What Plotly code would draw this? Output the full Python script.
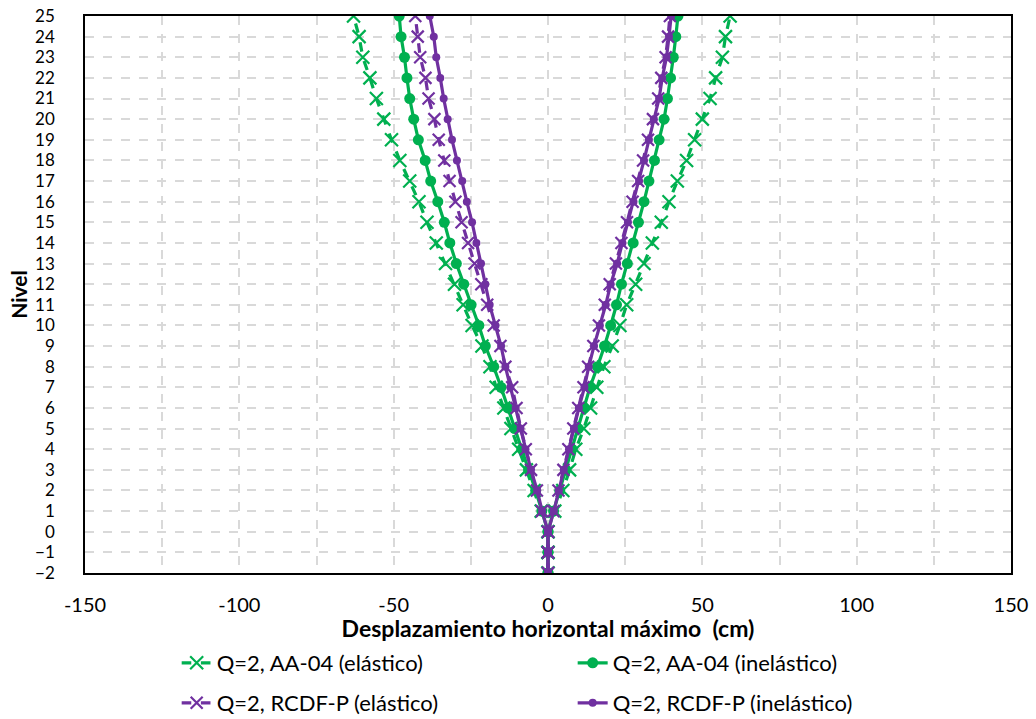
import plotly.graph_objects as go

levels = list(range(-2, 26))

# Q=2, AA-04 (elástico)
aa04_el_left = [0, 0, 0, -2.2, -4.5, -7.0, -9.5, -12.0, -14.3, -16.8, -18.8, -21.4, -24.6, -27.5, -30.3,
                -33.2, -36.2, -39.2, -41.8, -44.8, -48.0, -50.7, -53.2, -55.6, -57.7, -60.0, -61.2, -63.0]
aa04_el_right = [0, 0, 0, 2.2, 4.8, 7.0, 9.0, 11.6, 13.8, 15.8, 18.1, 20.8, 23.3, 25.5, 28.4,
                 31.1, 33.8, 36.7, 39.2, 41.9, 44.9, 47.5, 50.0, 52.5, 54.3, 56.5, 57.5, 59.0]
# Q=2, AA-04 (inelástico)
aa04_in_left = [0, 0, 0, -2.0, -4.0, -6.3, -8.5, -10.8, -13.0, -15.2, -17.6, -20.3, -22.4, -24.9, -27.3,
                -29.7, -31.8, -33.6, -35.7, -38.0, -39.8, -42.0, -43.5, -44.8, -45.7, -46.5, -47.6, -48.2]
aa04_in_right = [0, 0, 0, 1.8, 3.8, 5.8, 7.8, 9.8, 11.7, 13.6, 16.0, 18.3, 20.3, 22.2, 23.8,
                 25.7, 27.6, 29.3, 31.1, 32.7, 34.5, 36.0, 37.6, 38.7, 39.7, 40.6, 41.4, 42.1]
# Q=2, RCDF-P (elástico)
rcdf_el_left = [0, 0, 0, -2.0, -3.6, -5.5, -7.2, -8.8, -10.2, -11.6, -13.8, -15.4, -17.6, -19.7, -21.6,
                -23.8, -25.9, -28.0, -30.0, -31.9, -33.6, -35.4, -36.8, -38.7, -39.7, -41.4, -42.2, -43.0]
rcdf_el_right = [0, 0, 0, 1.8, 3.4, 5.0, 6.6, 8.2, 9.8, 11.5, 13.0, 14.7, 16.5, 18.4, 20.0,
                 22.0, 23.8, 25.6, 27.4, 29.2, 30.8, 32.4, 34.0, 35.7, 36.7, 38.1, 38.9, 39.5]
# Q=2, RCDF-P (inelástico)
rcdf_in_left = [0, 0, 0, -1.9, -3.5, -5.5, -7.3, -8.9, -10.5, -12.2, -13.8, -15.2, -17.0, -18.9, -20.3,
                -21.7, -23.2, -24.6, -26.3, -27.8, -29.5, -31.1, -32.5, -33.8, -34.9, -36.2, -37.0, -38.3]
rcdf_in_right = [0, 0, 0, 1.9, 3.5, 5.1, 6.8, 8.4, 10.0, 11.8, 13.2, 14.9, 16.8, 18.7, 20.3,
                 22.4, 24.1, 25.9, 27.7, 29.5, 31.1, 32.7, 34.3, 36.0, 37.0, 38.4, 39.2, 39.9]

x_ticks = [-150, -100, -50, 0, 50, 100, 150]

GREEN = "#00B050"
PURPLE = "#7030A0"
FONT = "Lato"

series = [
    ("Q=2, AA-04 (elástico)", aa04_el_left, aa04_el_right, GREEN, "dash", "x-thin", 13, "legend"),
    ("Q=2, AA-04 (inelástico)", aa04_in_left, aa04_in_right, GREEN, "solid", "circle", 11, "legend"),
    ("Q=2, RCDF-P (elástico)", rcdf_el_left, rcdf_el_right, PURPLE, "dash", "x-thin", 12, "legend2"),
    ("Q=2, RCDF-P (inelástico)", rcdf_in_left, rcdf_in_right, PURPLE, "solid", "circle", 8, "legend2"),
]

fig = go.Figure()
for name, left, right, color, dash, sym, size, leg in series:
    for i, xs in enumerate([left, right]):
        mk = dict(symbol=sym, size=size, color=color)
        if sym == "x-thin":
            mk["line"] = dict(color=color, width=2.2)
        fig.add_trace(go.Scatter(
            x=xs, y=levels, mode="lines+markers", name=name,
            legendgroup=name, showlegend=(i == 0), legend=leg,
            line=dict(color=color, width=3.2, dash=dash),
            marker=mk,
        ))

grid = dict(showgrid=True, gridcolor="#D9D9D9", gridwidth=1.5, griddash="dash")

fig.update_layout(
    width=1036, height=719,
    margin=dict(l=85, r=25, t=16, b=146),
    paper_bgcolor="white", plot_bgcolor="white",
    font=dict(family=FONT, size=19, color="black"),
    xaxis=dict(range=[-150, 150], tickvals=x_ticks, ticktext=[str(v) for v in x_ticks],
               automargin=False,
               zeroline=False, showline=True, linecolor="black", linewidth=1.5, mirror=True,
               ticks="", tickfont=dict(size=20, family=FONT), ticklabelstandoff=13,
               minor=dict(dtick=25, tick0=0, showgrid=True, gridcolor="#D9D9D9", gridwidth=1.5, griddash="dash"),
               title=dict(text="<b>Desplazamiento horizontal máximo  (cm)</b>", font=dict(size=23, family=FONT), standoff=19),
               **grid),
    yaxis=dict(range=[-2, 25], dtick=1, tick0=0, zeroline=False, showline=True, linecolor="black",
               automargin=False,
               linewidth=1.5, mirror=True, ticks="", tickfont=dict(size=17, family=FONT),
               ticklabelstandoff=25,
               title=dict(text="<b>Nivel</b>", font=dict(size=21, family=FONT), standoff=2),
               **grid),
    legend=dict(orientation="h", x=0.099, xanchor="left", xref="paper",
                y=1 - 663 / 719, yanchor="middle", yref="container",
                entrywidth=351, entrywidthmode="pixels", font=dict(size=22, family=FONT),
                bgcolor="rgba(0,0,0,0)"),
    legend2=dict(orientation="h", x=0.099, xanchor="left", xref="paper",
                 y=1 - 703 / 719, yanchor="middle", yref="container",
                 entrywidth=351, entrywidthmode="pixels", font=dict(size=22, family=FONT),
                 bgcolor="rgba(0,0,0,0)"),
)

fig.write_html("out.html", config={"displayModeBar": False},
               post_script="document.body.style.margin='0px';")
